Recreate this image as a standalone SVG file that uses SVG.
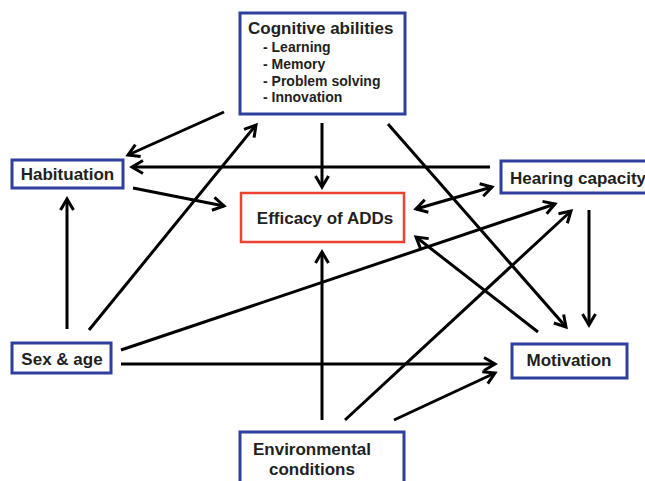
<svg xmlns="http://www.w3.org/2000/svg" width="645" height="481" viewBox="0 0 645 481">
<style>
.box{fill:#fff;stroke:#2e3f9e;stroke-width:3}
.red{fill:#fff;stroke:#ee4130;stroke-width:2.5}
.t{font-family:"Liberation Sans",Arial,sans-serif;font-weight:bold;font-size:17px;fill:#231f20}
.s{font-family:"Liberation Sans",Arial,sans-serif;font-weight:bold;font-size:14px;fill:#231f20}
.c line{stroke:#000;stroke-width:3;fill:none}
</style>
<defs>
<marker id="ah" markerUnits="userSpaceOnUse" markerWidth="20" markerHeight="20" viewBox="-14 -10 20 20" refX="0" refY="0" orient="auto-start-reverse">
<path d="M-11,-6.5 L0,0 L-11,6.5" fill="none" stroke="#000" stroke-width="3"/>
</marker>
</defs>
<rect width="645" height="481" fill="#fff"/>
<g class="c">
<line x1="224" y1="112" x2="128" y2="155" marker-end="url(#ah)"/>
<line x1="490" y1="167" x2="132" y2="167" marker-end="url(#ah)"/>
<line x1="133" y1="188" x2="224" y2="206" marker-end="url(#ah)"/>
<line x1="322" y1="123" x2="322" y2="187" marker-end="url(#ah)"/>
<line x1="388" y1="124" x2="566" y2="327" marker-end="url(#ah)"/>
<line x1="416" y1="209" x2="492" y2="187" marker-start="url(#ah)" marker-end="url(#ah)"/>
<line x1="538" y1="332" x2="416" y2="237" marker-end="url(#ah)"/>
<line x1="589" y1="210" x2="589" y2="325" marker-end="url(#ah)"/>
<line x1="67" y1="329" x2="67" y2="199" marker-end="url(#ah)"/>
<line x1="89" y1="330" x2="256" y2="125" marker-end="url(#ah)"/>
<line x1="121" y1="350" x2="555" y2="204" marker-end="url(#ah)"/>
<line x1="121" y1="364" x2="495" y2="364" marker-end="url(#ah)"/>
<line x1="322" y1="420" x2="322" y2="252" marker-end="url(#ah)"/>
<line x1="345" y1="420" x2="571" y2="211" marker-end="url(#ah)"/>
<line x1="394" y1="420" x2="495" y2="373" marker-end="url(#ah)"/>
</g>
<g id="cognitive">
<rect class="box" x="240" y="13" width="165" height="101"/>
<text class="t" x="248" y="34">Cognitive abilities</text>
<text class="s" x="263" y="52">- Learning</text>
<text class="s" x="263" y="69">- Memory</text>
<text class="s" x="263" y="85.5">- Problem solving</text>
<text class="s" x="263" y="102">- Innovation</text>
</g>
<g id="habituation">
<rect class="box" x="12" y="160" width="111" height="28"/>
<text class="t" x="67.5" y="180" text-anchor="middle">Habituation</text>
</g>
<g id="hearing">
<rect class="box" x="501" y="161" width="160" height="32"/>
<text class="t" x="510" y="183.5">Hearing capacity</text>
</g>
<g id="efficacy">
<rect class="red" x="241" y="193" width="163" height="49"/>
<text class="t" x="325" y="224" text-anchor="middle">Efficacy of ADDs</text>
</g>
<g id="sexage">
<rect class="box" x="12" y="343" width="99" height="30"/>
<text class="t" x="62" y="365" text-anchor="middle">Sex &amp; age</text>
</g>
<g id="motivation">
<rect class="box" x="512" y="344" width="115" height="34"/>
<text class="t" x="569" y="365.5" text-anchor="middle">Motivation</text>
</g>
<g id="environmental">
<rect class="box" x="240" y="432" width="164" height="60"/>
<text class="t" x="312" y="455" text-anchor="middle">Environmental</text>
<text class="t" x="312" y="475" text-anchor="middle">conditions</text>
</g>
</svg>
